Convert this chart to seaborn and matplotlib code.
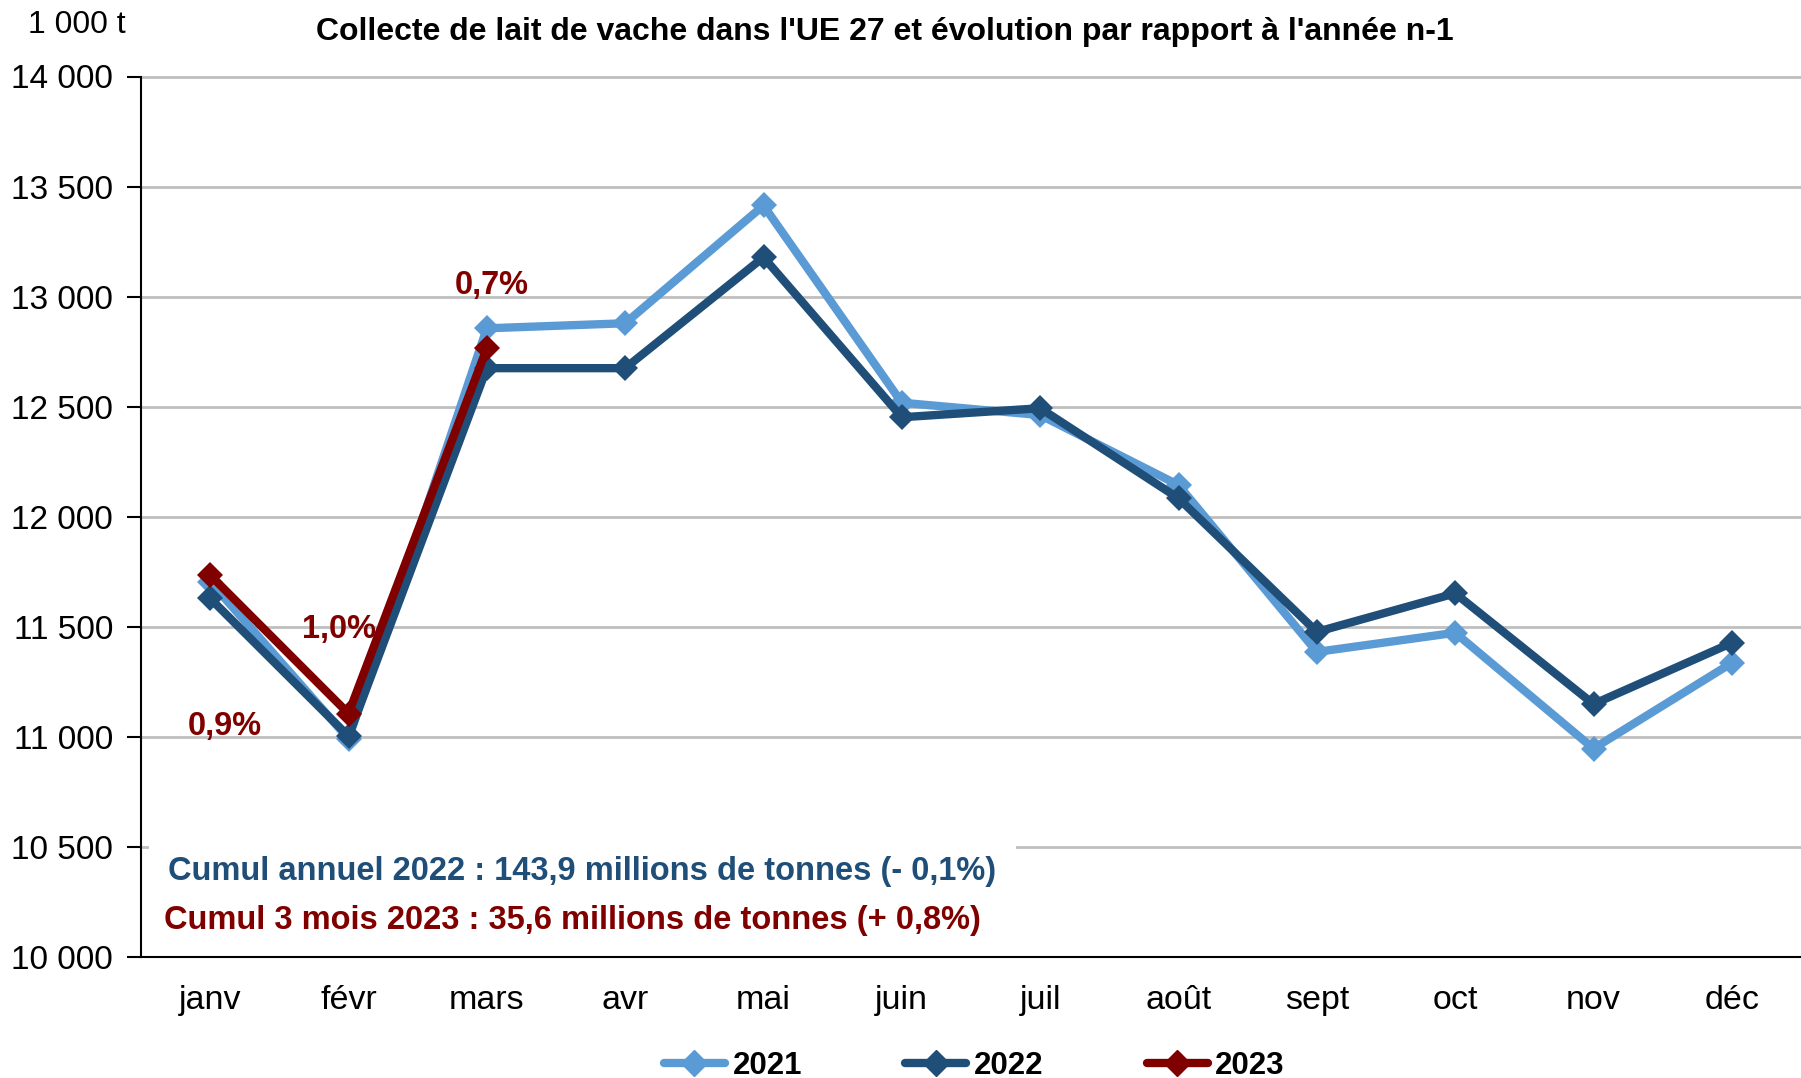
import pandas as pd
import numpy as np
import matplotlib.pyplot as plt
import seaborn as sns

# data (1 000 t)
months = ['janv', 'févr', 'mars', 'avr', 'mai', 'juin', 'juil', 'août', 'sept', 'oct', 'nov', 'déc']
lait_2021 = [11705, 10991, 12856, 12879, 13414, 12518, 12462, 12144, 11386, 11473, 10947, 11336]
lait_2022 = [11629, 11003, 12675, 12675, 13179, 12452, 12493, 12084, 11477, 11652, 11149, 11427]
lait_2023 = [11735, 11106, 12765]
evol_2023 = ['0,9%', '1,0%', '0,7%']
years = ['2021', '2022', '2023']
colors = {'2021': '#5B9BD5', '2022': '#1F4E79', '2023': '#800000'}

rows = []
for year, vals in zip(years, [lait_2021, lait_2022, lait_2023]):
    for i, v in enumerate(vals):
        rows.append({'mois': i, 'annee': year, 'collecte': v})
df = pd.DataFrame(rows)

sns.set_style('white')
plt.rcParams['font.family'] = ['Liberation Sans', 'DejaVu Sans']
plt.rcParams['text.color'] = 'black'
plt.rcParams['xtick.color'] = 'black'
plt.rcParams['ytick.color'] = 'black'

fig = plt.figure(figsize=(18.01, 10.78), dpi=100)
ax = fig.add_axes([141 / 1801, 1 - 957 / 1078, 1 - 141 / 1801, (957 - 76.5) / 1078])

sns.lineplot(data=df, x='mois', y='collecte', hue='annee', palette=colors,
             style='annee', markers={'2021': 'D', '2022': 'D', '2023': 'D'},
             dashes=False, linewidth=6, markersize=13, markeredgewidth=0,
             legend=False, ax=ax, zorder=3)

# evolution labels on 2023 points
offsets = [(15, -151), (-10, 84), (5, 63)]
for i, (lab, off) in enumerate(zip(evol_2023, offsets)):
    ax.annotate(lab, (i, lait_2023[i]), xytext=off, textcoords='offset pixels',
                ha='center', va='center', fontsize=23.5, fontweight='bold',
                color='#800000', zorder=5)

ax.set_ylim(10000, 14000)
ax.set_xlim(-0.5, 11.39)
ax.set_yticks(np.arange(10000, 14001, 500))
ax.set_yticklabels([f'{v:,}'.replace(',', ' ') for v in range(10000, 14001, 500)], fontsize=24)
ax.set_xticks(range(12))
ax.set_xticklabels(months, fontsize=24.5)
ax.set_xticks(np.arange(-0.5, 11.6, 1), minor=True)
ax.tick_params(axis='x', which='major', length=0, pad=20)
ax.tick_params(axis='x', which='minor', length=10, width=1.5, color='black', direction='out')
ax.tick_params(axis='y', length=10, width=1.5, color='black', direction='out', pad=10, left=True)
ax.yaxis.grid(True, color='#BFBFBF', linewidth=2)
ax.set_axisbelow(True)
for s in ['top', 'right']:
    ax.spines[s].set_visible(False)
for s in ['left', 'bottom']:
    ax.spines[s].set_color('black')
    ax.spines[s].set_linewidth(1.5)
ax.set_xlabel('')
ax.set_ylabel('')

# cumul texts
ax.text(0.0165, 0.097, 'Cumul annuel 2022 : 143,9 millions de tonnes (- 0,1%)',
        transform=ax.transAxes, fontsize=23.5, fontweight='bold', color='#1F4E79',
        va='center', ha='left', zorder=4,
        bbox=dict(facecolor='white', edgecolor='none', pad=14))
ax.text(0.014, 0.041, 'Cumul 3 mois 2023 : 35,6 millions de tonnes (+ 0,8%)',
        transform=ax.transAxes, fontsize=23.5, fontweight='bold', color='#800000',
        va='center', ha='left', zorder=4)

fig.text(28 / 1801, 1 - 25 / 1078, '1 000 t', fontsize=23, ha='left', va='center')
fig.text(885 / 1801, 1 - 32 / 1078,
         "Collecte de lait de vache dans l'UE 27 et évolution par rapport à l'année n-1",
         fontsize=23, fontweight='bold', ha='center', va='center')

# legend
handles = [plt.Line2D([], [], color=colors[y], lw=6, marker='D', markersize=13,
                      solid_capstyle='round') for y in years]
fig.legend(handles, years, loc='center', bbox_to_anchor=(0.541, 1 - 1066 / 1078),
           ncol=3, frameon=False, prop={'size': 22.5, 'weight': 'bold'},
           handlelength=1.95, handletextpad=0.25, columnspacing=3.3)

fig.savefig('out.png', dpi=100)
